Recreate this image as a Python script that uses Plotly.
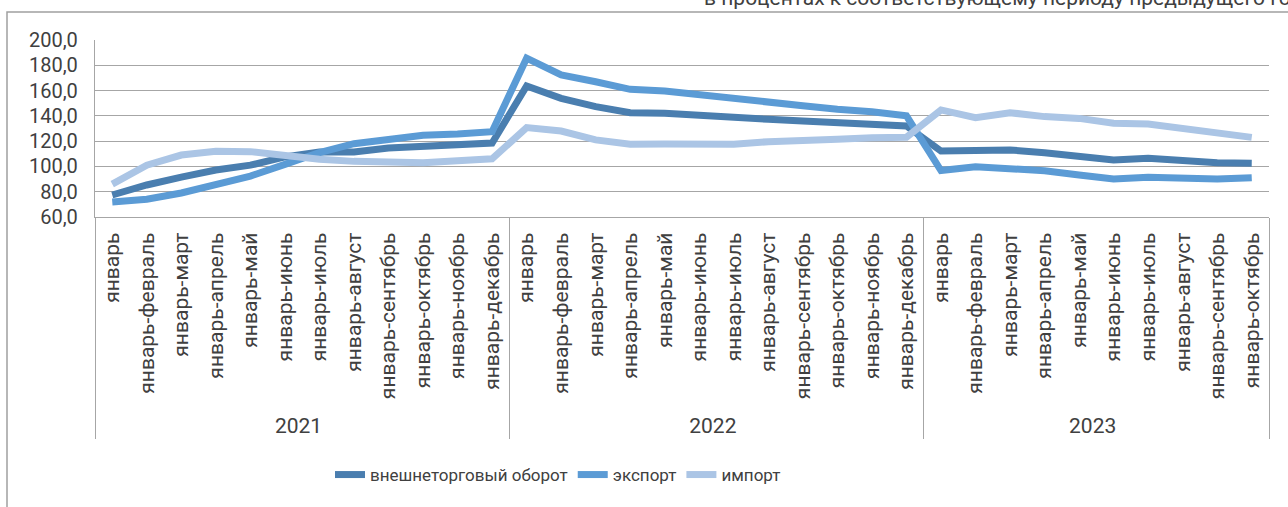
import plotly.graph_objects as go

months12 = ["январь", "январь-февраль", "январь-март", "январь-апрель", "январь-май",
            "январь-июнь", "январь-июль", "январь-август", "январь-сентябрь",
            "январь-октябрь", "январь-ноябрь", "январь-декабрь"]
years = ["2021"] * 12 + ["2022"] * 12 + ["2023"] * 10
periods = months12 + months12 + months12[:10]

turnover = [77.4, 85.3, 91.6, 97.2, 101.0, 107.5, 111.4, 111.5, 114.6, 116.0, 117.0, 118.5,
            163.6, 153.9, 147.3, 142.5, 142.0, 140.1, 138.0, 137.3, 136.0, 134.6, 134.1, 132.0,
            112.2, 113.0, 113.0, 110.9, 108.3, 105.1, 106.4, 104.5, 103.0, 102.5]
export = [71.9, 74.0, 79.0, 86.0, 92.4, 101.6, 111.0, 118.0, 122.0, 124.7, 125.6, 127.5,
          185.6, 172.3, 167.0, 161.0, 159.7, 156.5, 153.4, 151.2, 148.0, 145.2, 143.3, 140.0,
          96.7, 99.8, 98.5, 96.6, 93.2, 90.0, 91.4, 91.1, 90.0, 91.1]
imports = [86.0, 101.0, 109.0, 112.0, 111.7, 108.7, 105.6, 104.0, 103.0, 103.0, 104.5, 106.0,
           130.7, 128.0, 121.0, 117.5, 117.8, 118.3, 117.5, 119.6, 120.1, 121.4, 122.7, 123.0,
           144.7, 138.6, 142.5, 139.4, 138.0, 134.1, 133.6, 130.2, 126.2, 123.0]

series_names = ["внешнеторговый оборот", "экспорт", "импорт"]
colors = ["#4a7eaf", "#5b9bd5", "#abc5e5"]

FONT = "Roboto"
TXT = "#404040"
GRID = "#a6a6a6"

fig = go.Figure()
for name, vals, c in zip(series_names, [turnover, export, imports], colors):
    fig.add_trace(go.Scatter(
        x=[years, periods], y=vals, name=name, mode="lines",
        line=dict(color=c, width=7)))

W, H = 1288, 507
L, R, T, B = 95, 19, 40, 290
pw, ph = W - L - R, H - T - B

def px2paper_x(px):
    return (px - L) / pw

def px2paper_y(py):
    return (H - B - py) / ph

fig.update_layout(
    template="none",
    width=W, height=H,
    margin=dict(l=L, r=R, t=T, b=B, autoexpand=False),
    paper_bgcolor="white", plot_bgcolor="white",
    separators=", ",
    font=dict(family=FONT, color=TXT, size=18),
    showlegend=True,
    legend=dict(orientation="h", x=px2paper_x(330), xanchor="left",
                y=px2paper_y(475), yanchor="middle",
                font=dict(size=17, color=TXT), traceorder="normal",
                bgcolor="rgba(0,0,0,0)"),
    xaxis=dict(type="multicategory", tickangle=-90, showgrid=False,
               range=[-0.5, len(periods) - 0.5], automargin=False,
               showline=True, linecolor=GRID, linewidth=1.3,
               ticks="", ticklabelstandoff=6,
               tickfont=dict(size=21, color=TXT, family=FONT),
               showdividers=True, dividercolor=GRID, dividerwidth=1.3),
    yaxis=dict(range=[60, 200], dtick=20, tickformat=".1f", automargin=False,
               showgrid=True, gridcolor=GRID, gridwidth=1.3,
               showline=True, linecolor=GRID, linewidth=1.3,
               zeroline=False, ticks="", ticklabelstandoff=12,
               tickfont=dict(size=20, color=TXT, family=FONT)),
)

# outer chart frame
fig.add_shape(type="rect", xref="paper", yref="paper",
              x0=px2paper_x(7), x1=px2paper_x(1300), y0=px2paper_y(520), y1=px2paper_y(12),
              line=dict(color="#a0a0a0", width=1.5), fillcolor="rgba(0,0,0,0)", layer="below")

fig.add_annotation(text="в процентах к соответствующему периоду предыдущего года",
                   xref="paper", yref="paper", x=px2paper_x(702), y=px2paper_y(12),
                   xanchor="left", yanchor="bottom", showarrow=False,
                   font=dict(size=21, color=TXT, family=FONT))

fig.write_html("out.html", config={"displayModeBar": False},
               post_script="document.body.style.margin='0';document.body.style.overflow='hidden';")
